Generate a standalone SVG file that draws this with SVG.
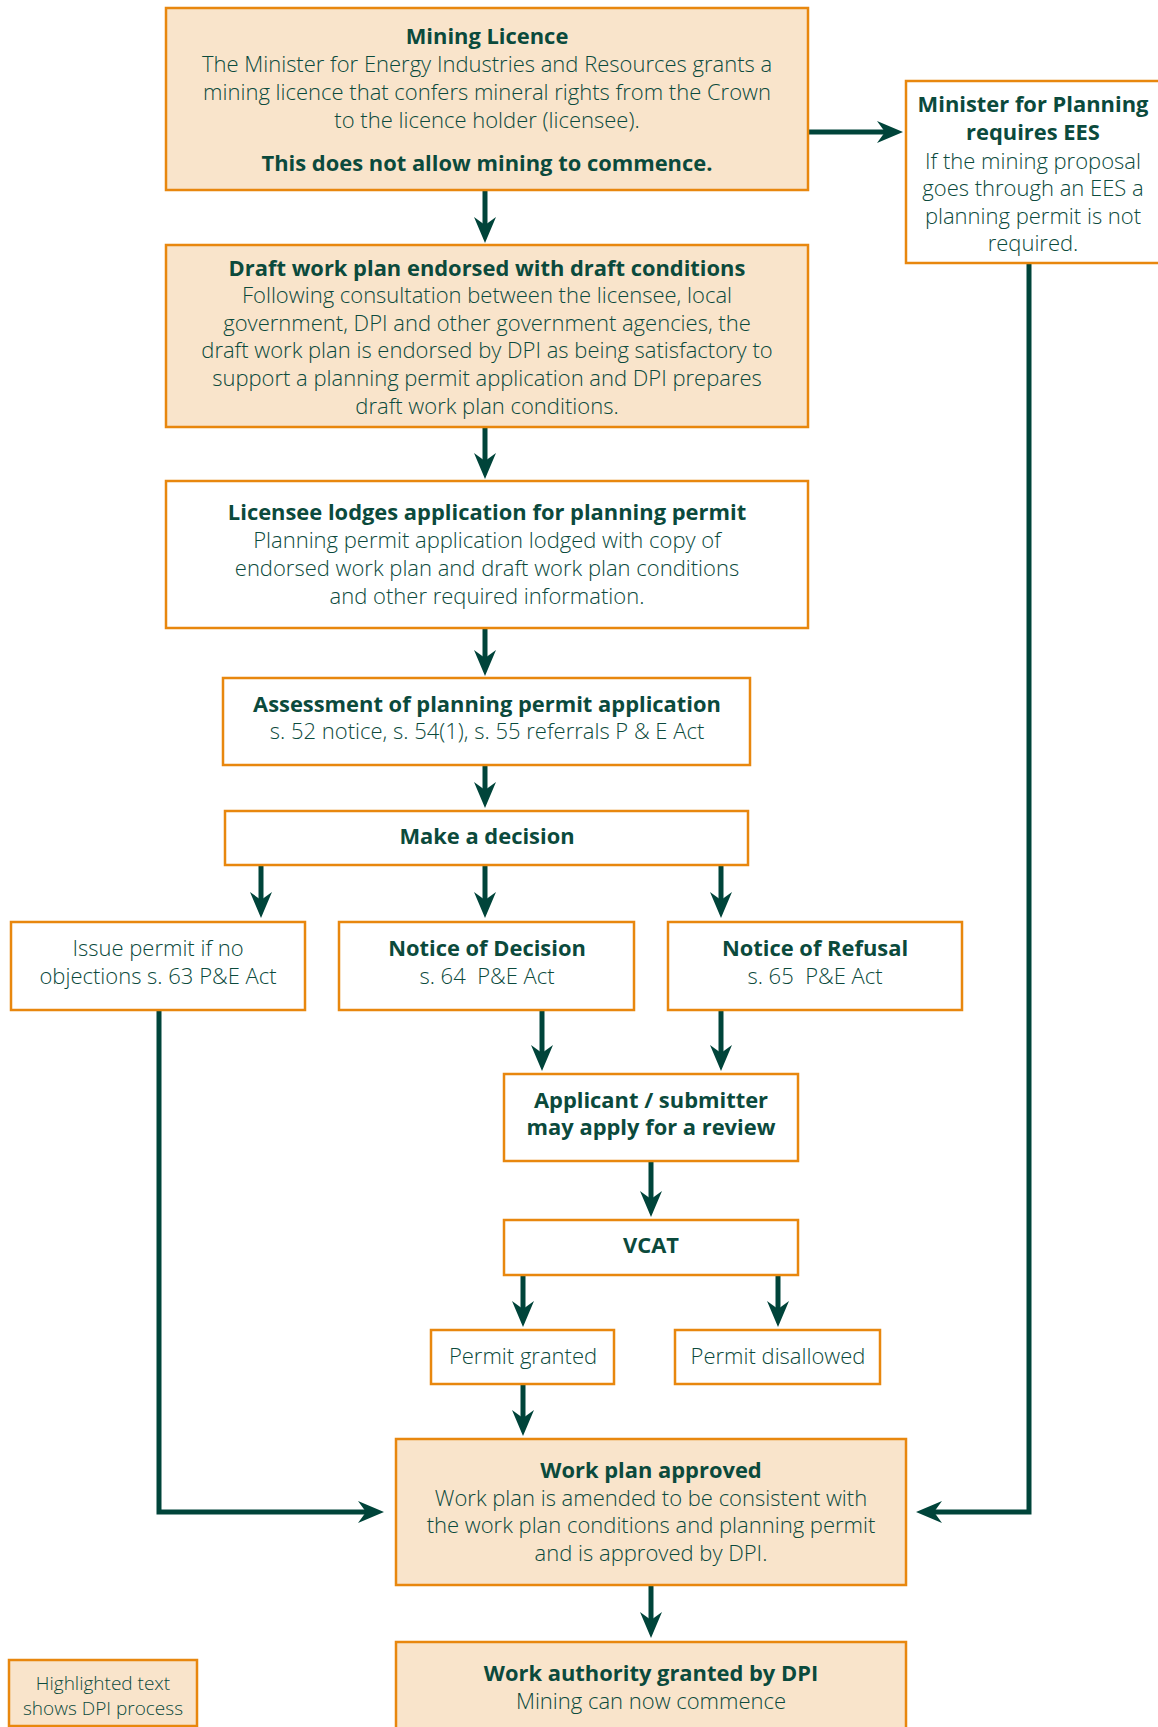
<svg xmlns="http://www.w3.org/2000/svg" width="1158" height="1727" viewBox="0 0 1158 1727">
<style>
.hl{fill:#f9e4cb;stroke:#e8870e;stroke-width:2.5}
.wh{fill:#ffffff;stroke:#e8870e;stroke-width:2.5}
text{font-family:"Open Sans","Noto Sans","DejaVu Sans",sans-serif;fill:#0b4a3c;text-anchor:middle;dominant-baseline:central;font-size:22px;font-weight:300}
.b{font-weight:700;font-size:21.9px}
.sm{font-size:19px}
.con{fill:none;stroke:#00443a;stroke-width:5}
</style>
<defs>
<marker id="ah" markerUnits="userSpaceOnUse" markerWidth="28" markerHeight="24" refX="8" refY="11" orient="auto" viewBox="0 0 28 22">
<path d="M0,0 L26,11 L0,22 L8,11 Z" fill="#00443a"/>
</marker>
</defs>
<g id="connectors">
<path class="con" marker-end="url(#ah)" d="M485,190 V225"/>
<path class="con" marker-end="url(#ah)" d="M808,132 H885"/>
<path class="con" marker-end="url(#ah)" d="M1029,263 V1512 H934"/>
<path class="con" marker-end="url(#ah)" d="M485,427 V461"/>
<path class="con" marker-end="url(#ah)" d="M485,628 V658"/>
<path class="con" marker-end="url(#ah)" d="M485,765 V790"/>
<path class="con" marker-end="url(#ah)" d="M261,865 V900"/>
<path class="con" marker-end="url(#ah)" d="M485,865 V900"/>
<path class="con" marker-end="url(#ah)" d="M721,865 V900"/>
<path class="con" marker-end="url(#ah)" d="M542,1010 V1053"/>
<path class="con" marker-end="url(#ah)" d="M721,1010 V1053"/>
<path class="con" marker-end="url(#ah)" d="M651,1161 V1199"/>
<path class="con" marker-end="url(#ah)" d="M523,1275 V1309"/>
<path class="con" marker-end="url(#ah)" d="M778,1275 V1309"/>
<path class="con" marker-end="url(#ah)" d="M523,1384 V1418"/>
<path class="con" marker-end="url(#ah)" d="M159,1010 V1512 H366"/>
<path class="con" marker-end="url(#ah)" d="M651,1585 V1620"/>
</g>
<g id="mining-licence">
<rect class="hl" x="166" y="8" width="642" height="182"/>
<text class="b" x="487" y="35">Mining Licence</text>
<text x="487" y="63">The Minister for Energy Industries and Resources grants a</text>
<text x="487" y="91">mining licence that confers mineral rights from the Crown</text>
<text x="487" y="119">to the licence holder (licensee).</text>
<text class="b" x="487" y="162">This does not allow mining to commence.</text>
</g>
<g id="minister-planning">
<rect class="wh" x="906" y="81" width="260" height="182"/>
<text class="b" x="1033" y="103">Minister for Planning</text>
<text class="b" x="1033" y="131">requires EES</text>
<text x="1033" y="160">If the mining proposal</text>
<text x="1033" y="187">goes through an EES a</text>
<text x="1033" y="215">planning permit is not</text>
<text x="1033" y="242">required.</text>
</g>
<g id="draft-work-plan">
<rect class="hl" x="166" y="245" width="642" height="182"/>
<text class="b" x="487" y="267">Draft work plan endorsed with draft conditions</text>
<text x="487" y="294">Following consultation between the licensee, local</text>
<text x="487" y="322">government, DPI and other government agencies, the</text>
<text x="487" y="349">draft work plan is endorsed by DPI as being satisfactory to</text>
<text x="487" y="377">support a planning permit application and DPI prepares</text>
<text x="487" y="405">draft work plan conditions.</text>
</g>
<g id="licensee-lodges">
<rect class="wh" x="166" y="481" width="642" height="147"/>
<text class="b" x="487" y="511">Licensee lodges application for planning permit</text>
<text x="487" y="539">Planning permit application lodged with copy of</text>
<text x="487" y="567">endorsed work plan and draft work plan conditions</text>
<text x="487" y="595">and other required information.</text>
</g>
<g id="assessment">
<rect class="wh" x="223" y="678" width="527" height="87"/>
<text class="b" x="487" y="703">Assessment of planning permit application</text>
<text x="487" y="730">s. 52 notice, s. 54(1), s. 55 referrals P &amp; E Act</text>
</g>
<g id="make-decision">
<rect class="wh" x="225" y="811" width="523" height="54"/>
<text class="b" x="487" y="835">Make a decision</text>
</g>
<g id="issue-permit">
<rect class="wh" x="11" y="922" width="294" height="88"/>
<text x="158" y="947">Issue permit if no</text>
<text x="158" y="975">objections s. 63 P&amp;E Act</text>
</g>
<g id="notice-decision">
<rect class="wh" x="339" y="922" width="295" height="88"/>
<text class="b" x="487" y="947">Notice of Decision</text>
<text x="487" y="975">s. 64&#160; P&amp;E Act</text>
</g>
<g id="notice-refusal">
<rect class="wh" x="668" y="922" width="294" height="88"/>
<text class="b" x="815" y="947">Notice of Refusal</text>
<text x="815" y="975">s. 65&#160; P&amp;E Act</text>
</g>
<g id="applicant-review">
<rect class="wh" x="504" y="1074" width="294" height="87"/>
<text class="b" x="651" y="1099">Applicant / submitter</text>
<text class="b" x="651" y="1126">may apply for a review</text>
</g>
<g id="vcat">
<rect class="wh" x="504" y="1220" width="294" height="55"/>
<text class="b" x="651" y="1244">VCAT</text>
</g>
<g id="permit-granted">
<rect class="wh" x="431" y="1330" width="183" height="54"/>
<text x="523" y="1355">Permit granted</text>
</g>
<g id="permit-disallowed">
<rect class="wh" x="675" y="1330" width="205" height="54"/>
<text x="778" y="1355">Permit disallowed</text>
</g>
<g id="work-plan-approved">
<rect class="hl" x="396" y="1439" width="510" height="146"/>
<text class="b" x="651" y="1469">Work plan approved</text>
<text x="651" y="1497">Work plan is amended to be consistent with</text>
<text x="651" y="1524">the work plan conditions and planning permit</text>
<text x="651" y="1552">and is approved by DPI.</text>
</g>
<g id="work-authority">
<rect class="hl" x="396" y="1642" width="510" height="100"/>
<text class="b" x="651" y="1672">Work authority granted by DPI</text>
<text x="651" y="1700">Mining can now commence</text>
</g>
<g id="legend">
<rect class="hl" x="9" y="1660" width="188" height="66"/>
<text class="sm" x="103" y="1683">Highlighted text</text>
<text class="sm" x="103" y="1708">shows DPI process</text>
</g>
</svg>
